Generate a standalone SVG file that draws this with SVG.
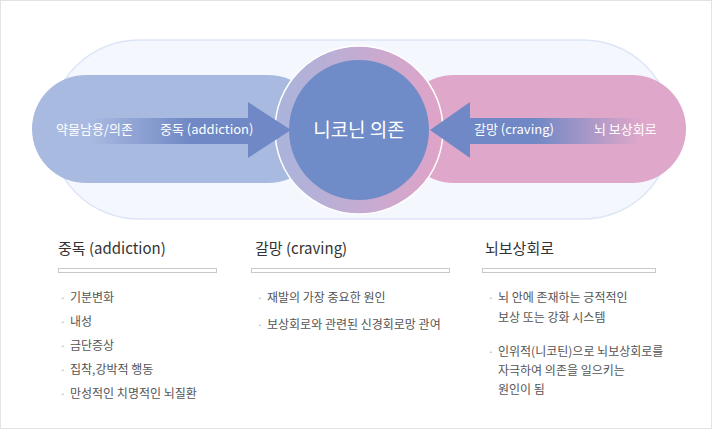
<svg xmlns="http://www.w3.org/2000/svg" width="712" height="429" viewBox="0 0 712 429">
<style>
text{font-family:"Noto Sans CJK KR","Noto Sans",sans-serif}
.w{fill:#fff;font-size:13px}
.h{fill:#333;font-size:15px}
.b{fill:#555;font-size:12px}
.d{fill:#aaa;font-size:10px}
.bar{fill:#fff;stroke:#c8c8c8;stroke-width:1}
</style>
<defs>
<linearGradient id="la" x1="0" x2="1"><stop offset="0" stop-color="#7088c5" stop-opacity="0"/><stop offset="0.5" stop-color="#7088c5"/></linearGradient>
<linearGradient id="ra" x1="1" x2="0"><stop offset="0" stop-color="#7088c5" stop-opacity="0"/><stop offset="0.5" stop-color="#7088c5"/></linearGradient>
<linearGradient id="ring" x1="0" x2="1"><stop offset="0" stop-color="#a9b4dc"/><stop offset="1" stop-color="#e0a3c7"/></linearGradient>
</defs>
<rect x="0.5" y="0.5" width="711" height="428" fill="#fff" stroke="#e3e3e3"/>
<g id="bg"><rect x="50" y="40" width="622" height="179" rx="89" fill="#f4f7fd" stroke="#dde6f5" stroke-width="1.5"/></g>
<g id="left"><rect x="32" y="75" width="290" height="108" rx="54" fill="#a9bae0"/></g>
<g id="right"><rect x="400" y="75" width="286" height="108" rx="54" fill="#dfa7c9"/></g>
<g id="center">
<circle cx="359" cy="130" r="84" fill="url(#ring)" stroke="#fff" stroke-width="1.5"/>
<circle cx="359" cy="130" r="70" fill="#708cc8"/>
<text x="359" y="137" text-anchor="middle" fill="#fff" font-size="19">니코닌 의존</text>
</g>
<g id="connectors">
<path d="M90 118H248V102L291 130L248 158V144H90Z" fill="url(#la)"/>
<path d="M640 118H470V102L430 130L470 158V144H640Z" fill="url(#ra)"/>
</g>
<text class="w" x="56" y="134">약물남용/의존</text>
<text class="w" x="160" y="134">중독 (addiction)</text>
<text class="w" x="474" y="134">갈망 (craving)</text>
<text class="w" x="594" y="134">뇌 보상회로</text>
<g id="col1">
<text class="h" x="58" y="254">중독 (addiction)</text>
<rect class="bar" x="58.5" y="268.5" width="158" height="4"/>
<text class="b" x="70" y="302">기분변화</text><text class="b" x="70" y="326">내성</text><text class="b" x="70" y="350">금단증상</text><text class="b" x="70" y="374">집착,강박적 행동</text><text class="b" x="70" y="398">만성적인 치명적인 뇌질환</text>
<text class="d" x="60" y="302">·</text><text class="d" x="60" y="326">·</text><text class="d" x="60" y="350">·</text><text class="d" x="60" y="374">·</text><text class="d" x="60" y="398">·</text>
</g>
<g id="col2">
<text class="h" x="255" y="254">갈망 (craving)</text>
<rect class="bar" x="251.5" y="268.5" width="198" height="4"/>
<text class="d" x="257" y="302">·</text><text class="b" x="267" y="302">재발의 가장 중요한 원인</text>
<text class="d" x="257" y="329">·</text><text class="b" x="267" y="329">보상회로와 관련된 신경회로망 관여</text>
</g>
<g id="col3">
<text class="h" x="485" y="254">뇌보상회로</text>
<rect class="bar" x="482.5" y="268.5" width="173" height="4"/>
<text class="d" x="488" y="302">·</text><text class="b" x="498" y="302">뇌 안에 존재하는 긍적적인</text><text class="b" x="498" y="322">보상 또는 강화 시스템</text>
<text class="d" x="488" y="356">·</text><text class="b" x="498" y="356">인위적(니코틴)으로 뇌보상회로를</text><text class="b" x="498" y="375">자극하여 의존을 일으키는</text><text class="b" x="498" y="394">원인이 됨</text>
</g>
</svg>
